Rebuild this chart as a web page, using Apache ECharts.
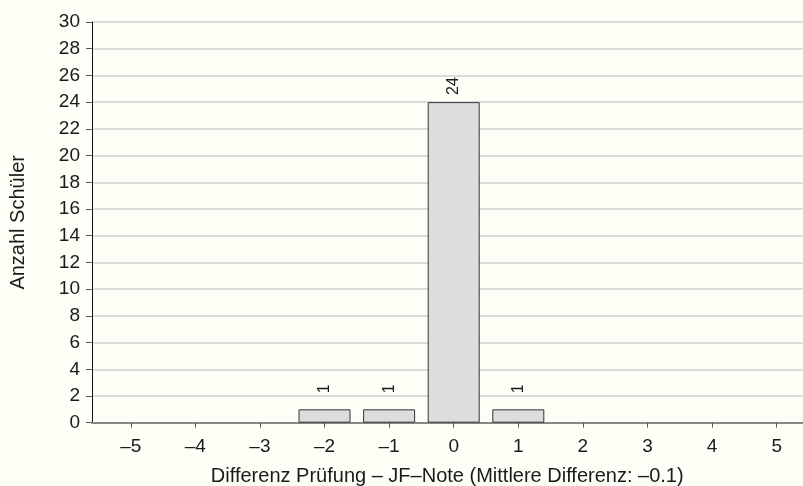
<!DOCTYPE html>
<html><head><meta charset="utf-8">
<script src="https://cdn.jsdelivr.net/npm/echarts@6/dist/echarts.min.js"></script>
<style>html,body{margin:0;padding:0;background:#fefef6;}#c{width:803px;height:486px;}</style>
</head><body><div id="c"></div>
<script>
const categories = [-5,-4,-3,-2,-1,0,1,2,3,4,5];
const categoryLabels = ['–5','–4','–3','–2','–1','0','1','2','3','4','5'];
const counts = [0,0,0,1,1,24,1,0,0,0,0];
const yTicks = [0,2,4,6,8,10,12,14,16,18,20,22,24,26,28,30];
const xTitle = 'Differenz Prüfung – JF–Note (Mittlere Differenz: –0.1)';
const yTitle = 'Anzahl Schüler';

const barData = categories.map((c,i)=>[c, counts[i]]).filter(d=>d[1]>0);
const font = 'Liberation Sans, Arial, Helvetica, sans-serif';
const chart = echarts.init(document.getElementById('c'));
chart.setOption({
  backgroundColor:'#fefef6',
  animation:false,
  grid:{left:92,right:0.5,top:22,bottom:63.3,containLabel:false,outerBoundsMode:'none'},
  xAxis:{
    type:'value', min:-5.6, max:5.4,
    name:xTitle, nameLocation:'middle', nameGap:44,
    nameTextStyle:{fontFamily:font,fontSize:20,color:'#1a1a1a'},
    axisLine:{show:true,onZero:false,lineStyle:{color:'#888',width:2}},
    axisTick:{show:true,length:5,customValues:categories,lineStyle:{color:'#555'}},
    axisLabel:{customValues:categories,margin:15,fontFamily:font,fontSize:19,color:'#1a1a1a',
      formatter:v=>categoryLabels[categories.indexOf(Math.round(v))]},
    splitLine:{show:false}
  },
  yAxis:{
    type:'value', min:yTicks[0], max:yTicks[yTicks.length-1], interval:2,
    name:yTitle, nameLocation:'middle', nameGap:64,
    nameTextStyle:{fontFamily:font,fontSize:20,color:'#1a1a1a'},
    axisLine:{show:true,onZero:false,lineStyle:{color:'#111',width:1}},
    axisTick:{show:true,length:6,lineStyle:{color:'#555'}},
    axisLabel:{margin:12,fontFamily:font,fontSize:19,color:'#1a1a1a'},
    splitLine:{show:true,lineStyle:{color:'#cfcfcf',width:1.5}}
  },
  series:[{
    type:'bar', data:barData, barWidth:52,
    itemStyle:{color:'#dddddd',borderColor:'#333',borderWidth:1},
    label:{show:true,position:'top',rotate:90,align:'right',verticalAlign:'middle',distance:25,
      fontFamily:font,fontSize:16,color:'#1a1a1a',formatter:p=>String(p.value[1])}
  }]
});
</script></body></html>
